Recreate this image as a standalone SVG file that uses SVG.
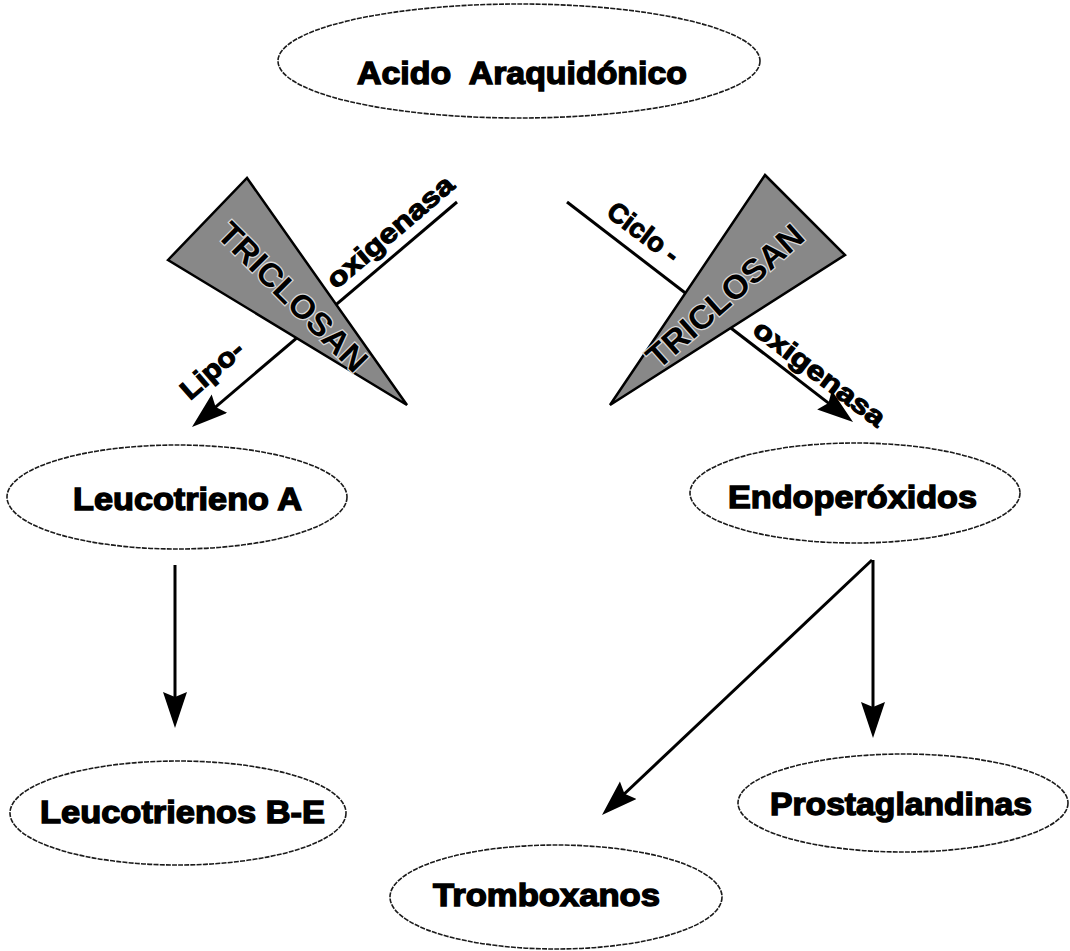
<svg xmlns="http://www.w3.org/2000/svg" width="1070" height="951" viewBox="0 0 1070 951">
  <style>
    .node ellipse { fill: #ffffff; stroke: #1a1a1a; stroke-width: 1.6; stroke-dasharray: 5 1.2; }
    .node text { font-family: "Liberation Sans", Arial, sans-serif; font-weight: bold; font-size: 32px; fill: #000; stroke: #000; stroke-width: 1.4; white-space: pre; }
    .conn line { stroke: #000; stroke-width: 3; fill: none; }
    .lbl { font-family: "Liberation Sans", Arial, sans-serif; font-weight: bold; font-size: 27px; fill: #000; stroke: #000; stroke-width: 1.1; }
    .tri polygon { fill: #888888; stroke: #000; stroke-width: 2.5; stroke-linejoin: miter; }
    .tri text { font-family: "Liberation Sans", Arial, sans-serif; font-weight: bold; font-size: 33px; fill: #000; stroke: #d8d8d8; stroke-width: 2.5; paint-order: stroke; }
  </style>
  <defs>
    <marker id="ah" markerUnits="userSpaceOnUse" markerWidth="40" markerHeight="26" refX="28" refY="12" orient="auto">
      <path d="M0,0 L36,12 L0,24 L5,12 Z" fill="#000"/>
    </marker>
  </defs>
  <rect width="1070" height="951" fill="#ffffff"/>

  <g id="connectors" class="conn">
    <line x1="457" y1="202" x2="198.1" y2="421.8" marker-end="url(#ah)"/>
    <line x1="567" y1="202" x2="846.7" y2="417.1" marker-end="url(#ah)"/>
    <line x1="175" y1="565" x2="175" y2="720" marker-end="url(#ah)"/>
    <line x1="873" y1="560" x2="873" y2="730" marker-end="url(#ah)"/>
    <line x1="872" y1="560" x2="607.8" y2="809.5" marker-end="url(#ah)"/>
  </g>

  <g id="inhibitor-left" class="tri">
    <polygon points="168,260 247,178 407,405"/>
    <text transform="translate(293,297) rotate(45)" text-anchor="middle" dominant-baseline="central" textLength="196" lengthAdjust="spacingAndGlyphs">TRICLOSAN</text>
  </g>
  <g id="inhibitor-right" class="tri">
    <polygon points="765,175 845,255 610,405"/>
    <text transform="translate(725,296) rotate(-41.6)" text-anchor="middle" dominant-baseline="central" textLength="198" lengthAdjust="spacingAndGlyphs">TRICLOSAN</text>
  </g>

  <g id="labels">
    <text class="lbl" transform="translate(336,290) rotate(-40.5)" textLength="158" lengthAdjust="spacingAndGlyphs">oxigenasa</text>
    <text class="lbl" transform="translate(190,401) rotate(-41)" textLength="74" lengthAdjust="spacingAndGlyphs">Lipo-</text>
    <text class="lbl" transform="translate(605,215) rotate(37)" xml:space="preserve">Ciclo -</text>
    <text class="lbl" transform="translate(751,333) rotate(37)" textLength="158" lengthAdjust="spacingAndGlyphs">oxigenasa</text>
  </g>

  <g id="acido-araquidonico" class="node">
    <ellipse cx="519" cy="61" rx="241" ry="57"/>
    <text x="357" y="84" textLength="330" lengthAdjust="spacingAndGlyphs" xml:space="preserve">Acido  Araquidónico</text>
  </g>
  <g id="leucotrieno-a" class="node">
    <ellipse cx="177" cy="497" rx="170" ry="52"/>
    <text x="73" y="510" textLength="229" lengthAdjust="spacingAndGlyphs">Leucotrieno A</text>
  </g>
  <g id="endoperoxidos" class="node">
    <ellipse cx="855" cy="493" rx="165" ry="50"/>
    <text x="728" y="508" textLength="249" lengthAdjust="spacingAndGlyphs">Endoperóxidos</text>
  </g>
  <g id="leucotrienos-b-e" class="node">
    <ellipse cx="178" cy="813" rx="168" ry="52"/>
    <text x="40" y="823" textLength="285" lengthAdjust="spacingAndGlyphs">Leucotrienos B-E</text>
  </g>
  <g id="prostaglandinas" class="node">
    <ellipse cx="903" cy="803" rx="165" ry="49"/>
    <text x="770" y="815" textLength="262" lengthAdjust="spacingAndGlyphs">Prostaglandinas</text>
  </g>
  <g id="tromboxanos" class="node">
    <ellipse cx="556" cy="897" rx="166" ry="52"/>
    <text x="433" y="906" textLength="227" lengthAdjust="spacingAndGlyphs">Tromboxanos</text>
  </g>
</svg>
